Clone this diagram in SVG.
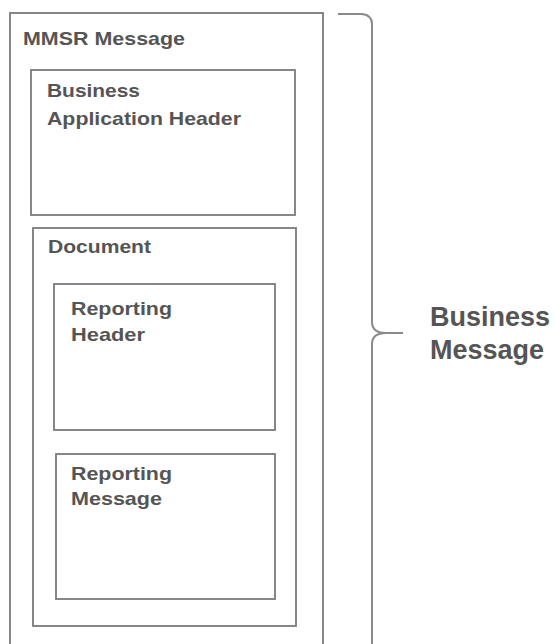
<svg xmlns="http://www.w3.org/2000/svg" width="555" height="644" viewBox="0 0 555 644">
<style>
.box{fill:none;stroke:#7a7a7a;stroke-width:1.8}
.lbl{font-family:"Liberation Sans",Arial,sans-serif;font-weight:bold;font-size:19px;fill:#555}
.big{font-family:"Liberation Sans",Arial,sans-serif;font-weight:bold;font-size:27px;fill:#555}
.br{fill:none;stroke:#8a8a8a;stroke-width:2}
</style>
<rect width="555" height="644" fill="#fff"/>
<g id="mmsr">
<rect class="box" x="10" y="13" width="313" height="660"/>
<text class="lbl" x="23" y="45" textLength="162" lengthAdjust="spacingAndGlyphs">MMSR Message</text>
</g>
<g id="bah">
<rect class="box" x="31" y="70" width="264" height="145"/>
<text class="lbl" x="47" y="97" textLength="93" lengthAdjust="spacingAndGlyphs">Business</text>
<text class="lbl" x="47" y="125" textLength="194" lengthAdjust="spacingAndGlyphs">Application  Header</text>
</g>
<g id="document">
<rect class="box" x="33" y="228" width="263" height="398"/>
<text class="lbl" x="48" y="253" textLength="103" lengthAdjust="spacingAndGlyphs">Document</text>
</g>
<g id="reporting-header">
<rect class="box" x="54" y="284" width="221" height="146"/>
<text class="lbl" x="71" y="315" textLength="101" lengthAdjust="spacingAndGlyphs">Reporting</text>
<text class="lbl" x="71" y="341" textLength="74" lengthAdjust="spacingAndGlyphs">Header</text>
</g>
<g id="reporting-message">
<rect class="box" x="56" y="454" width="219" height="145"/>
<text class="lbl" x="71" y="480" textLength="101" lengthAdjust="spacingAndGlyphs">Reporting</text>
<text class="lbl" x="71" y="505" textLength="91" lengthAdjust="spacingAndGlyphs">Message</text>
</g>
<g id="connectors">
<path class="br" d="M338,14 L362,14 Q372,15 372,24 L372,322 Q372,333 386,333 L403,333 M386,333 Q372,333 372,344 L372,660"/>
</g>
<g id="business-message">
<text class="big" x="430" y="326">Business</text>
<text class="big" x="430" y="359">Message</text>
</g>
</svg>
